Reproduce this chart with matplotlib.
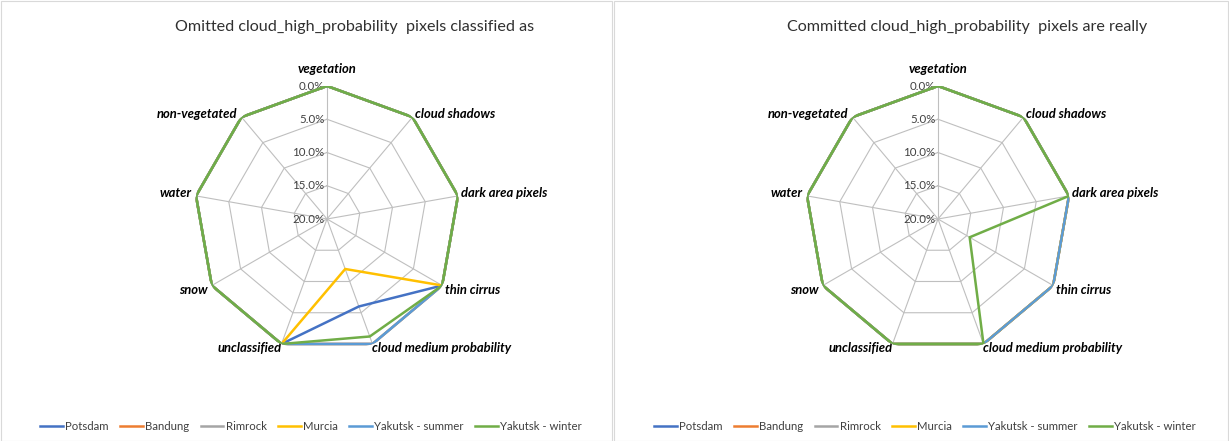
import numpy as np
import matplotlib.pyplot as plt
from matplotlib.patches import Rectangle

plt.rcParams['font.family'] = ['Lato', 'DejaVu Sans']

# categories (clockwise from top)
categories = ['vegetation', 'cloud shadows', 'dark area pixels', 'thin cirrus',
              'cloud medium probability', 'unclassified', 'snow', 'water', 'non-vegetated']
series_names = ['Potsdam', 'Bandung', 'Rimrock', 'Murcia', 'Yakutsk - summer', 'Yakutsk - winter']
colors = ['#4472C4', '#ED7D31', '#A5A5A5', '#FFC000', '#5B9BD5', '#70AD47']
r_ticks = [0, 5, 10, 15, 20]

# omitted cloud_high_probability (%)
omit_potsdam = [0, 0, 0, 0, 6.0, 0, 0, 0, 0]
omit_bandung = [0, 0, 0, 0, 0, 0, 0, 0, 0]
omit_rimrock = [0, 0, 0, 0, 0, 0, 0, 0, 0]
omit_murcia = [0, 0, 0, 0, 12.0, 0, 0, 0, 0]
omit_yak_summer = [0, 0, 0, 0, 0, 0, 0, 0, 0]
omit_yak_winter = [0, 0, 0, 0, 1.2, 0, 0, 0, 0]

# committed cloud_high_probability (%)
comm_potsdam = [0, 0, 0, 0, 0, 0, 0, 0, 0]
comm_bandung = [0, 0, 0, 0, 0, 0, 0, 0, 0]
comm_rimrock = [0, 0, 0, 0, 0, 0, 0, 0, 0]
comm_murcia = [0, 0, 0, 0, 0, 0, 0, 0, 0]
comm_yak_summer = [0, 0, 0, 0, 0, 0, 0, 0, 0]
comm_yak_winter = [0, 0, 0, 14.5, 0, 0, 0, 0, 0]

omitted = [omit_potsdam, omit_bandung, omit_rimrock, omit_murcia, omit_yak_summer, omit_yak_winter]
committed = [comm_potsdam, comm_bandung, comm_rimrock, comm_murcia, comm_yak_summer, comm_yak_winter]

n = len(categories)
angles = np.arange(n) * 2 * np.pi / n
angles_closed = np.append(angles, angles[0])


def draw_radar(rect, data, title, title_x, legend_x):
    ax = fig.add_axes(rect, polar=True)
    ax.set_theta_zero_location('N')
    ax.set_theta_direction(-1)
    ax.set_ylim(20, 0)
    ax.grid(False)
    ax.spines['polar'].set_visible(False)
    ax.set_xticks([])
    ax.set_yticks([])
    ax.patch.set_alpha(0)

    # polygon grid
    for r in r_ticks[:-1]:
        ax.plot(angles_closed, [r] * (n + 1), color='#BFBFBF', lw=0.8, zorder=1)
    for a in angles:
        ax.plot([a, a], [20, 0], color='#BFBFBF', lw=0.8, zorder=1)
    for r in r_ticks:
        ax.annotate('%.1f%%' % r, xy=(0, r), xytext=(-2, 0), textcoords='offset points',
                    ha='right', va='center', fontsize=8.3, color='#404040')

    # category labels
    for a, c in zip(angles, categories):
        deg = np.degrees(a) % 360
        if deg < 1:
            ha, off = 'center', (0, 8)
        elif deg < 179:
            ha, off = 'left', (2, -1 if deg < 100 else -3)
        elif deg < 181:
            ha, off = 'center', (0, -8)
        else:
            ha, off = 'right', (-3, -1 if deg > 260 else -3)
        if abs(deg - 160) < 1 or abs(deg - 200) < 1:
            off = (0, -3)
            ha = 'left' if deg < 180 else 'right'
        if abs(deg - 40) < 1 or abs(deg - 320) < 1:
            off = (off[0], 2)
        if abs(deg - 80) < 1 or abs(deg - 280) < 1:
            off = (off[0], 2)
        ax.annotate(c, xy=(a, 0), xytext=off, textcoords='offset points', ha=ha,
                    va='center' if ha != 'center' else ('bottom' if deg < 1 else 'top'),
                    fontsize=9.4, fontweight='bold', fontstyle='italic', color='black')

    lines = []
    for vals, col, name in zip(data, colors, series_names):
        ln, = ax.plot(angles_closed, list(vals) + [vals[0]], color=col, lw=1.8,
                      label=name, zorder=3)
        lines.append(ln)

    fig.text(title_x, 1 - 27 / 441, title, ha='center', va='center', fontsize=11.6,
             color='#303030')
    fig.legend(lines, series_names, loc='center', bbox_to_anchor=(legend_x, 1 - 426 / 441),
               ncol=6, frameon=False, fontsize=8.2, handlelength=2.0, handletextpad=0.2,
               columnspacing=1.0, labelcolor='#404040')


fig = plt.figure(figsize=(12.29, 4.41), dpi=100)
fig.patches.append(Rectangle((0.5 / 1229, 0.5 / 441), 611 / 1229, 439.5 / 441,
                             transform=fig.transFigure, fill=False, ec='#D9D9D9', lw=0.8))
fig.patches.append(Rectangle((614 / 1229, 0.5 / 441), 614 / 1229, 439.5 / 441,
                             transform=fig.transFigure, fill=False, ec='#D9D9D9', lw=0.8))

R = 133
draw_radar([(327 - R) / 1229, (441 - 219 - R) / 441, 2 * R / 1229, 2 * R / 441],
           omitted, 'Omitted cloud_high_probability  pixels classified as', 355 / 1229, 311 / 1229)
draw_radar([(938 - R) / 1229, (441 - 219 - R) / 441, 2 * R / 1229, 2 * R / 441],
           committed, 'Committed cloud_high_probability  pixels are really', 967 / 1229, 925 / 1229)

fig.savefig('out.png', dpi=100)
